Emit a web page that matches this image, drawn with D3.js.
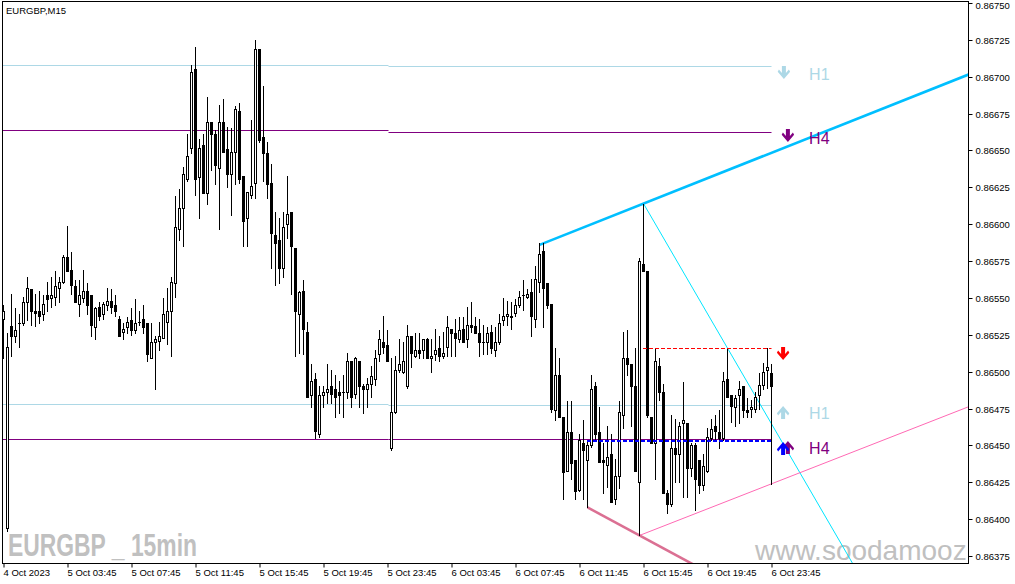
<!DOCTYPE html>
<html><head><meta charset="utf-8">
<script src="https://cdn.jsdelivr.net/npm/d3@7"></script>
<style>html,body{margin:0;padding:0;background:#fff;overflow:hidden}svg{display:block}</style>
</head><body>
<svg id="chart" width="1015" height="584"></svg>
<script>
// ---------------- DATA ----------------
const symbolTitle = "EURGBP,M15";
const timeLabels = ["4 Oct 2023","5 Oct 03:45","5 Oct 07:45","5 Oct 11:45","5 Oct 15:45","5 Oct 19:45","5 Oct 23:45","6 Oct 03:45","6 Oct 07:45","6 Oct 11:45","6 Oct 15:45","6 Oct 19:45","6 Oct 23:45"];
const priceTicks = [0.86375,0.86400,0.86425,0.86450,0.86475,0.86500,0.86525,0.86550,0.86575,0.86600,0.86625,0.86650,0.86675,0.86700,0.86725,0.86750];
const opens = [0.86536,0.86394,0.86531,0.86524,0.86533,0.86533,0.86547,0.86556,0.86541,0.86541,0.86539,0.86552,0.86550,0.86551,0.86557,0.86561,0.86578,0.86569,0.86558,0.86546,0.86550,0.86555,0.86552,0.86530,0.86544,0.86539,0.86545,0.86548,0.86545,0.86536,0.86527,0.86530,0.86535,0.86528,0.86534,0.86536,0.86533,0.86509,0.86520,0.86521,0.86523,0.86534,0.86541,0.86560,0.86597,0.86611,0.86631,0.86652,0.86705,0.86632,0.86654,0.86621,0.86669,0.86661,0.86638,0.86669,0.86651,0.86634,0.86649,0.86677,0.86633,0.86604,0.86620,0.86628,0.86719,0.86659,0.86648,0.86628,0.86593,0.86589,0.86570,0.86600,0.86608,0.86584,0.86539,0.86555,0.86527,0.86484,0.86495,0.86458,0.86484,0.86486,0.86490,0.86488,0.86486,0.86486,0.86486,0.86507,0.86485,0.86507,0.86490,0.86488,0.86492,0.86495,0.86512,0.86520,0.86518,0.86448,0.86473,0.86501,0.86500,0.86490,0.86524,0.86511,0.86515,0.86515,0.86522,0.86509,0.86512,0.86516,0.86511,0.86517,0.86529,0.86526,0.86522,0.86529,0.86522,0.86532,0.86531,0.86526,0.86520,0.86520,0.86527,0.86515,0.86520,0.86535,0.86538,0.86537,0.86540,0.86545,0.86552,0.86551,0.86554,0.86536,0.86561,0.86582,0.86560,0.86546,0.86474,0.86498,0.86469,0.86433,0.86459,0.86440,0.86420,0.86452,0.86440,0.86450,0.86490,0.86459,0.86440,0.86437,0.86444,0.86414,0.86429,0.86471,0.86509,0.86505,0.86490,0.86425,0.86573,0.86568,0.86469,0.86452,0.86504,0.86486,0.86418,0.86410,0.86448,0.86444,0.86465,0.86465,0.86435,0.86450,0.86440,0.86423,0.86433,0.86455,0.86463,0.86459,0.86455,0.86495,0.86484,0.86476,0.86484,0.86490,0.86474,0.86475,0.86475,0.86484,0.86491,0.86501,0.86499];
const highs = [0.86545,0.86526,0.86553,0.86543,0.86539,0.86551,0.86564,0.86556,0.86553,0.86555,0.86552,0.86561,0.86564,0.86568,0.86564,0.86579,0.86599,0.86581,0.86562,0.86562,0.86569,0.86560,0.86552,0.86544,0.86547,0.86547,0.86557,0.86556,0.86552,0.86538,0.86533,0.86537,0.86543,0.86549,0.86541,0.86545,0.86533,0.86533,0.86524,0.86534,0.86550,0.86557,0.86564,0.86619,0.86624,0.86639,0.86661,0.86708,0.86720,0.86658,0.86661,0.86686,0.86669,0.86664,0.86681,0.86685,0.86666,0.86665,0.86680,0.86682,0.86633,0.86622,0.86671,0.86725,0.86719,0.86694,0.86656,0.86641,0.86608,0.86604,0.86608,0.86633,0.86608,0.86584,0.86555,0.86562,0.86534,0.86505,0.86499,0.86490,0.86490,0.86505,0.86501,0.86498,0.86494,0.86498,0.86513,0.86507,0.86510,0.86507,0.86492,0.86496,0.86504,0.86515,0.86528,0.86538,0.86528,0.86509,0.86511,0.86522,0.86520,0.86532,0.86524,0.86526,0.86526,0.86522,0.86523,0.86522,0.86529,0.86524,0.86527,0.86538,0.86529,0.86536,0.86537,0.86537,0.86544,0.86547,0.86537,0.86536,0.86532,0.86530,0.86532,0.86530,0.86539,0.86550,0.86548,0.86547,0.86549,0.86555,0.86562,0.86556,0.86563,0.86572,0.86587,0.86587,0.86560,0.86546,0.86516,0.86509,0.86469,0.86480,0.86480,0.86440,0.86458,0.86467,0.86454,0.86498,0.86493,0.86476,0.86452,0.86463,0.86458,0.86441,0.86480,0.86527,0.86528,0.86505,0.86516,0.86577,0.86614,0.86568,0.86469,0.86516,0.86509,0.86492,0.86420,0.86471,0.86468,0.86466,0.86493,0.86465,0.86452,0.86452,0.86440,0.86444,0.86462,0.86468,0.86471,0.86474,0.86500,0.86516,0.86484,0.86484,0.86494,0.86490,0.86482,0.86481,0.86486,0.86499,0.86506,0.86516,0.86505];
const lows = [0.86509,0.86392,0.86511,0.86520,0.86517,0.86532,0.86535,0.86532,0.86531,0.86533,0.86535,0.86541,0.86544,0.86545,0.86547,0.86560,0.86568,0.86553,0.86547,0.86538,0.86547,0.86539,0.86524,0.86522,0.86535,0.86536,0.86542,0.86540,0.86538,0.86524,0.86522,0.86526,0.86525,0.86526,0.86532,0.86526,0.86507,0.86509,0.86488,0.86515,0.86523,0.86519,0.86511,0.86551,0.86589,0.86585,0.86629,0.86648,0.86620,0.86604,0.86621,0.86614,0.86637,0.86627,0.86597,0.86649,0.86625,0.86606,0.86627,0.86628,0.86585,0.86585,0.86618,0.86618,0.86656,0.86629,0.86618,0.86570,0.86559,0.86560,0.86564,0.86591,0.86553,0.86511,0.86513,0.86512,0.86483,0.86476,0.86455,0.86456,0.86476,0.86479,0.86479,0.86469,0.86472,0.86469,0.86482,0.86476,0.86482,0.86476,0.86472,0.86476,0.86483,0.86491,0.86507,0.86513,0.86507,0.86447,0.86472,0.86500,0.86499,0.86489,0.86503,0.86510,0.86509,0.86509,0.86509,0.86500,0.86508,0.86507,0.86509,0.86511,0.86511,0.86511,0.86520,0.86520,0.86517,0.86527,0.86526,0.86511,0.86512,0.86512,0.86513,0.86511,0.86519,0.86532,0.86532,0.86529,0.86538,0.86544,0.86542,0.86550,0.86524,0.86530,0.86554,0.86530,0.86543,0.86473,0.86467,0.86469,0.86414,0.86433,0.86427,0.86414,0.86419,0.86414,0.86408,0.86449,0.86454,0.86439,0.86418,0.86422,0.86412,0.86410,0.86421,0.86462,0.86498,0.86463,0.86433,0.86389,0.86568,0.86469,0.86452,0.86427,0.86481,0.86418,0.86404,0.86409,0.86425,0.86425,0.86415,0.86415,0.86429,0.86406,0.86418,0.86420,0.86432,0.86454,0.86454,0.86448,0.86454,0.86483,0.86466,0.86463,0.86465,0.86469,0.86469,0.86469,0.86473,0.86475,0.86488,0.86489,0.86424];
const closes = [0.86541,0.86517,0.86524,0.86528,0.86533,0.86547,0.86557,0.86541,0.86540,0.86538,0.86546,0.86549,0.86552,0.86558,0.86561,0.86578,0.86568,0.86559,0.86547,0.86552,0.86555,0.86545,0.86532,0.86543,0.86538,0.86546,0.86548,0.86544,0.86541,0.86524,0.86529,0.86534,0.86528,0.86533,0.86534,0.86530,0.86512,0.86520,0.86522,0.86524,0.86539,0.86541,0.86561,0.86598,0.86611,0.86634,0.86646,0.86703,0.86631,0.86652,0.86621,0.86669,0.86661,0.86640,0.86669,0.86649,0.86634,0.86649,0.86678,0.86631,0.86602,0.86622,0.86626,0.86719,0.86657,0.86648,0.86627,0.86594,0.86587,0.86570,0.86598,0.86607,0.86585,0.86541,0.86554,0.86529,0.86483,0.86494,0.86460,0.86484,0.86486,0.86488,0.86485,0.86483,0.86484,0.86486,0.86507,0.86483,0.86509,0.86490,0.86488,0.86492,0.86497,0.86509,0.86522,0.86517,0.86507,0.86473,0.86501,0.86505,0.86507,0.86524,0.86513,0.86515,0.86513,0.86522,0.86509,0.86511,0.86515,0.86511,0.86513,0.86530,0.86526,0.86523,0.86528,0.86520,0.86532,0.86530,0.86526,0.86520,0.86520,0.86526,0.86516,0.86520,0.86533,0.86538,0.86539,0.86538,0.86545,0.86551,0.86552,0.86553,0.86538,0.86563,0.86580,0.86557,0.86545,0.86475,0.86498,0.86469,0.86432,0.86459,0.86438,0.86419,0.86454,0.86447,0.86450,0.86488,0.86458,0.86439,0.86439,0.86442,0.86412,0.86429,0.86473,0.86509,0.86505,0.86490,0.86433,0.86575,0.86568,0.86471,0.86452,0.86507,0.86486,0.86418,0.86410,0.86448,0.86444,0.86463,0.86467,0.86435,0.86450,0.86427,0.86423,0.86436,0.86456,0.86461,0.86460,0.86455,0.86494,0.86483,0.86477,0.86482,0.86488,0.86474,0.86473,0.86476,0.86483,0.86491,0.86500,0.86503,0.86490];

// multi-timeframe levels: [startBar, endBar, price]
const levelH1Res = [[-1, 96.25, 0.867078], [96.25, 192, 0.867071]];
const levelH4Res = [[-1, 96.25, 0.866637], [96.25, 192, 0.866627]];
const levelH1Sup = [[-1, 96.25, 0.864779], [96.25, 192, 0.864774]];
const levelH4Sup = [[-1, 96.25, 0.864542], [96.25, 192, 0.864542]];
const dashedRed = [160, 192, 0.86516];
const dashedBlue = [146, 192, 0.86453];
// trend rays: two anchor points [bar, price]
const rayUpperThick = [[134, 0.86586], [160, 0.86614]];
const rayLowerThick = [[146, 0.86408], [159, 0.86389]];
const rayLowerThin = [[159, 0.86389], [192, 0.86424]];
const rayCyan = [[160, 0.86614], [181, 0.86516]];
// signal marks: [bar, price, direction, color]
const signalArrows = [
  [195.1, 0.867025, "down", "#add8e6"],
  [196.1, 0.866598, "down", "#800080"],
  [194.9, 0.865120, "down", "#ff0000"],
  [194.9, 0.864727, "up", "#add8e6"],
  [196.1, 0.864490, "up", "#800080"],
  [194.9, 0.864483, "up", "#0000ff"]
];
const signalLabels = [
  [201.4, 0.86702, "H1", "#add8e6"],
  [201.4, 0.86658, "H4", "#800080"],
  [201.4, 0.86472, "H1", "#add8e6"],
  [201.4, 0.86448, "H4", "#800080"]
];

// ---------------- DRAW ----------------
const svg = d3.select("#chart");
const P = {left: 2, top: 1, right: 968, bottom: 563};
const x = d3.scaleLinear().domain([0, 192]).range([3.5, 771.5]);
const y = d3.scaleLinear().domain([0.86375, 0.86750]).range([556.1, 3.0]);
const ry = p => Math.round(y(p));
const FONT = "'Liberation Sans', Arial, sans-serif";

svg.append("defs").append("clipPath").attr("id", "clip")
  .append("rect").attr("x", P.left + 1).attr("y", P.top + 1)
  .attr("width", P.right - P.left - 1).attr("height", P.bottom - P.top - 1);

const g = svg.append("g").attr("clip-path", "url(#clip)");

// watermarks (behind)
g.append("text").attr("x", 8).attr("y", 556)
  .attr("font-family", FONT)
  .attr("font-weight", 700).attr("font-size", 32).attr("fill", "#c0c0c0")
  .attr("textLength", 189).attr("lengthAdjust", "spacingAndGlyphs")
  .text("EURGBP _ 15min");
g.append("text").attr("x", 755).attr("y", 560)
  .attr("font-family", FONT).attr("font-size", 28).attr("fill", "#c0c0c0")
  .text("www.soodamooz.com");

// level lines
function levels(arr, color) {
  arr.forEach(([a, b, p]) => {
    const yy = ry(p) + 0.5;
    g.append("line").attr("x1", Math.max(P.left, x(a))).attr("x2", x(b))
      .attr("y1", yy).attr("y2", yy).attr("stroke", color).attr("stroke-width", 1);
  });
}
levels(levelH1Res, "#add8e6");
levels(levelH4Res, "#800080");
levels(levelH1Sup, "#add8e6");
levels(levelH4Sup, "#800080");

// rays
function ray(pts, color, w) {
  const [[i1, p1], [i2, p2]] = pts;
  const slope = (p2 - p1) / (i2 - i1);
  const iEnd = 300;
  g.append("line").attr("x1", x(i1)).attr("y1", y(p1))
    .attr("x2", x(iEnd)).attr("y2", y(p1 + slope * (iEnd - i1)))
    .attr("stroke", color).attr("stroke-width", w);
}
ray(rayCyan, "#00e5ff", 1);
ray(rayLowerThin, "#ff69b4", 1);
ray(rayUpperThick, "#00bfff", 2.6);
ray(rayLowerThick, "#db7093", 2.6);

// candles
const bars = d3.range(opens.length).map(i => ({i, o: opens[i], h: highs[i], l: lows[i], c: closes[i]}));
const cg = g.append("g");
bars.forEach(b => {
  const cx = x(b.i);
  const yh = ry(b.h), yl = ry(b.l);
  cg.append("line").attr("x1", cx).attr("x2", cx).attr("y1", yh).attr("y2", yl + 1)
    .attr("stroke", "#000").attr("stroke-width", 1);
  const top = ry(Math.max(b.o, b.c)), bot = ry(Math.min(b.o, b.c));
  if (bot - top < 1) {
    cg.append("line").attr("x1", cx - 1.5).attr("x2", cx + 1.5)
      .attr("y1", top + 0.5).attr("y2", top + 0.5).attr("stroke", "#000");
  } else if (b.c > b.o) {
    cg.append("rect").attr("x", cx - 1).attr("y", top + 0.5).attr("width", 2)
      .attr("height", bot - top).attr("fill", "#fff").attr("stroke", "#000").attr("stroke-width", 1);
  } else {
    cg.append("rect").attr("x", cx - 1.5).attr("y", top).attr("width", 3)
      .attr("height", bot - top + 1).attr("fill", "#000");
  }
});

// dashed lines (drawn over candles)
[[dashedRed, "#ff0000", 1, 0.5], [dashedBlue, "#0000ff", 2, 0]].forEach(([d, c, w, off]) => {
  const yy = ry(d[2]) + off;
  g.append("line").attr("x1", x(d[0]) - 0.5).attr("x2", x(d[1]))
    .attr("y1", yy).attr("y2", yy).attr("stroke", c)
    .attr("stroke-width", w).attr("stroke-dasharray", "4,2");
});

// arrows
const ARROW = "M-2,-7 L2,-7 L2,0 L5,-3.5 L6.2,-1.2 L0,6 L-6.2,-1.2 L-5,-3.5 L-2,0 Z";
signalArrows.forEach(([bi, p, dir, col]) => {
  g.append("path").attr("d", ARROW)
    .attr("transform", `translate(${x(bi)},${y(p)})` + (dir === "up" ? " scale(1,-1)" : ""))
    .attr("fill", col);
});
signalLabels.forEach(([bi, p, t, col]) => {
  g.append("text").attr("x", x(bi)).attr("y", y(p)).attr("dy", "0.36em")
    .attr("font-family", FONT).attr("font-size", 16).attr("fill", col).text(t);
});

// frame
svg.append("rect").attr("x", P.left + 0.5).attr("y", P.top + 0.5)
  .attr("width", P.right - P.left).attr("height", P.bottom - P.top)
  .attr("fill", "none").attr("stroke", "#000").attr("stroke-width", 1);

// price axis
const ya = d3.axisRight(y).tickValues(priceTicks).tickSize(4).tickPadding(3)
  .tickFormat(d3.format(".5f"));
const yAxisG = svg.append("g").attr("transform", `translate(${P.right + 0.5},0)`).call(ya);
yAxisG.select(".domain").remove();
yAxisG.selectAll(".tick").attr("transform", d => `translate(0,${ry(d) + 0.5})`);
yAxisG.selectAll("text").attr("font-family", FONT).attr("font-size", 9.5).attr("fill", "#000")
  .attr("dy", d => d === 0.86750 ? "0.55em" : "0.32em");

// time axis
const tickBars = timeLabels.map((t, k) => k * 16);
const xa = d3.axisBottom(x).tickValues(tickBars).tickSize(4).tickPadding(2)
  .tickFormat((d, k) => timeLabels[k]);
const xAxisG = svg.append("g").attr("transform", `translate(0,${P.bottom + 0.5})`).call(xa);
xAxisG.select(".domain").remove();
xAxisG.selectAll("text").attr("text-anchor", "start").attr("dx", -0.5)
  .attr("font-family", FONT).attr("font-size", 9.5).attr("fill", "#000");

// title
svg.append("text").attr("x", 6).attr("y", 14).attr("font-family", FONT)
  .attr("font-size", 9.5).attr("fill", "#000").text(symbolTitle);
</script>
</body></html>
